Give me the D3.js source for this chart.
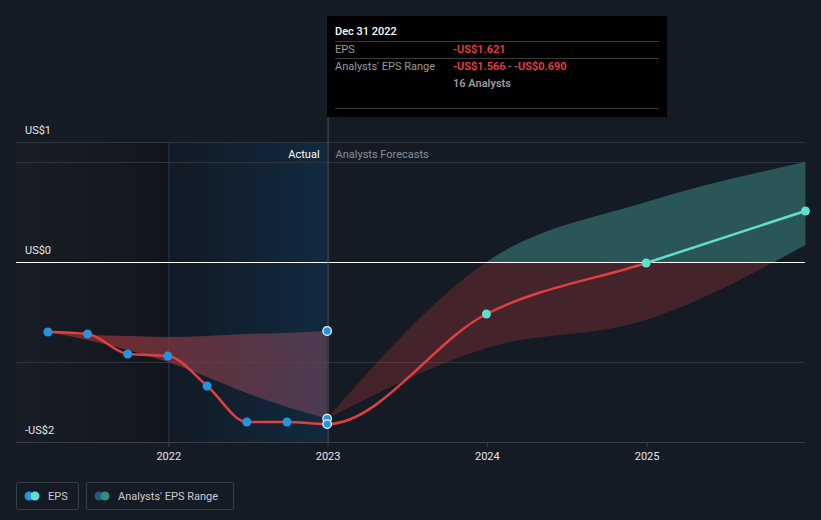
<!DOCTYPE html>
<html>
<head>
<meta charset="utf-8">
<script src="https://cdn.jsdelivr.net/npm/d3@7"></script>
<style>
  html, body { margin: 0; padding: 0; background: #151b24; }
  body { width: 821px; height: 520px; overflow: hidden; font-family: Roboto, "Noto Sans", sans-serif; }
  svg { display: block; }
</style>
</head>
<body>
<svg id="chart" width="821" height="520"></svg>
<script>
// ---------- data ----------
const histDates = ["2021-03-31", "2021-06-30", "2021-09-30", "2021-12-31", "2022-03-31", "2022-06-30", "2022-09-30", "2022-12-31"];
const histEPS   = [-0.70, -0.72, -0.92, -0.94, -1.24, -1.60, -1.60, -1.621];
const histLow   = [-0.70, -0.78, -0.88, -1.00, -1.15, -1.31, -1.45, -1.566];
const histHigh  = [-0.70, -0.73, -0.74, -0.75, -0.74, -0.72, -0.71, -0.690];

const fcDates = ["2022-12-31", "2023-12-31", "2024-12-31", "2025-12-31"];
const fcEPS   = [-1.621, -0.52, -0.01, 0.51];
const fcLow   = [-1.566, -0.86, -0.58, 0.17];
const fcHigh  = [-1.566, 0.00, 0.60, 1.00];

const yTickLabels = ["US$1", "US$0", "-US$2"];
const yTickAnchors = [1.2, 0, -1.8];
const yGridValues = [1.2, 1, -1];
const xTickYears = [2022, 2023, 2024, 2025];

const tooltipTitle = "Dec 31 2022";
const tooltipEPS = "-US$1.621";
const tooltipRangeLow = "-US$1.566";
const tooltipRangeHigh = "-US$0.690";
const tooltipAnalysts = "16 Analysts";

// ---------- setup ----------
(function () {
const parse = d3.timeParse("%Y-%m-%d");
const svg = d3.select("#chart");
const W = 821, H = 520;
const pL = 16, pR = 805, pT = 142, pB = 442;

const x = d3.scaleTime()
  .domain([new Date(2021, 0, 17), new Date(2025, 11, 30)])
  .range([pL, pR]);
const y = d3.scaleLinear().domain([-1.8, 1.2]).range([pB, pT]);

const hist = histDates.map((d, i) => ({ date: parse(d), v: histEPS[i], lo: histLow[i], hi: histHigh[i] }));
const fc = fcDates.map((d, i) => ({ date: parse(d), v: fcEPS[i], lo: fcLow[i], hi: fcHigh[i] }));
const all = hist.concat(fc.slice(1));

const red = "#e04040", teal = "#5ee0cf", blue = "#2394df";
const x2022 = x(new Date(2022, 0, 1)), x2023 = x(new Date(2023, 0, 1));
const defs = svg.append("defs");

// background regions
const gLeft = defs.append("linearGradient").attr("id", "gLeft").attr("x1", 0).attr("x2", 1);
gLeft.append("stop").attr("offset", 0).attr("stop-color", "#181d26");
gLeft.append("stop").attr("offset", 1).attr("stop-color", "#12161c");
svg.append("rect").attr("x", pL).attr("y", pT).attr("width", x2022 - pL).attr("height", pB - pT).attr("fill", "url(#gLeft)");

const gHi = defs.append("linearGradient").attr("id", "gHi").attr("x1", 0).attr("x2", 1);
gHi.append("stop").attr("offset", 0).attr("stop-color", "#121a24");
gHi.append("stop").attr("offset", 1).attr("stop-color", "#112a40");
svg.append("rect").attr("x", x2022).attr("y", pT).attr("width", x2023 - x2022).attr("height", pB - pT).attr("fill", "url(#gHi)");
svg.append("line").attr("x1", x2022 + 0.5).attr("x2", x2022 + 0.5).attr("y1", pT).attr("y2", pB).attr("stroke", "#1f3a55").attr("stroke-width", 1);

// gridlines
svg.append("g").selectAll("line").data(yGridValues).join("line")
  .attr("x1", pL).attr("x2", pR)
  .attr("y1", d => Math.round(y(d)) + 0.5).attr("y2", d => Math.round(y(d)) + 0.5)
  .attr("stroke", "#2f343c").attr("stroke-width", 1);

// clip paths above / below zero
defs.append("clipPath").attr("id", "above").append("rect")
  .attr("x", 0).attr("y", 0).attr("width", W).attr("height", y(0));
defs.append("clipPath").attr("id", "below").append("rect")
  .attr("x", 0).attr("y", y(0)).attr("width", W).attr("height", H - y(0));

// historical range band
const gHist = defs.append("linearGradient").attr("id", "gHist").attr("x1", 0).attr("x2", 1);
gHist.append("stop").attr("offset", 0).attr("stop-color", "#8a2a2c").attr("stop-opacity", 0.85);
gHist.append("stop").attr("offset", 1).attr("stop-color", "#7a4a60").attr("stop-opacity", 0.55);
const area = d3.area().x(d => x(d.date)).y0(d => y(d.lo)).y1(d => y(d.hi)).curve(d3.curveMonotoneX);
svg.append("path").datum(hist).attr("d", area).attr("fill", "url(#gHist)");

// forecast range band
svg.append("path").datum(fc).attr("d", area).attr("fill", red).attr("fill-opacity", 0.23).attr("clip-path", "url(#below)");
svg.append("path").datum(fc).attr("d", area).attr("fill", teal).attr("fill-opacity", 0.3).attr("clip-path", "url(#above)");

// zero line
svg.append("line").attr("x1", pL).attr("x2", pR).attr("y1", Math.round(y(0)) + 0.5).attr("y2", Math.round(y(0)) + 0.5)
  .attr("stroke", "#ffffff").attr("stroke-width", 1);

// bottom axis
const xAxis = d3.axisBottom(x)
  .tickValues(xTickYears.map(yr => new Date(yr, 0, 1)))
  .tickFormat(d3.timeFormat("%Y"))
  .tickSize(5).tickSizeOuter(0);
const ax = svg.append("g").attr("transform", `translate(0,${pB})`).call(xAxis);
ax.select(".domain").attr("stroke", "#3a3f47").attr("d", `M${pL},0.5H${pR}`);
ax.selectAll(".tick line").attr("stroke", "#3a3f47");
ax.selectAll(".tick text").attr("fill", "#e6e6e6").attr("font-size", 11).attr("font-family", "Roboto, sans-serif").attr("dy", "0.9em");

// y labels
svg.append("g").selectAll("text").data(yTickLabels).join("text")
  .attr("x", 25).attr("y", (d, i) => y(yTickAnchors[i]) - 8)
  .attr("fill", "#e6e6e6").attr("font-size", 11)
  .text(d => d);

// EPS line (history + forecast as one smooth curve)
const line = d3.line().x(d => x(d.date)).y(d => y(d.v)).curve(d3.curveMonotoneX);
svg.append("path").datum(all).attr("d", line).attr("fill", "none").attr("stroke", red).attr("stroke-width", 2.5).attr("clip-path", "url(#below)");
svg.append("path").datum(all).attr("d", line).attr("fill", "none").attr("stroke", teal).attr("stroke-width", 2.5).attr("clip-path", "url(#above)");

// tooltip vertical line
svg.append("line").attr("x1", x2023 + 0.5).attr("x2", x2023 + 0.5).attr("y1", 16).attr("y2", pB)
  .attr("stroke", "#4a5260").attr("stroke-width", 1);

// historical points
svg.append("g").selectAll("circle").data(hist.slice(0, -1)).join("circle")
  .attr("cx", d => x(d.date)).attr("cy", d => y(d.v)).attr("r", 4.5).attr("fill", blue);

// highlighted points at Dec 31 2022
const last = hist[hist.length - 1];
[last.hi, last.lo, last.v].forEach(v => {
  svg.append("circle").attr("cx", x(last.date)).attr("cy", y(v)).attr("r", 4.3)
    .attr("fill", blue).attr("stroke", "#ffffff").attr("stroke-width", 1.2);
});

// forecast points
svg.append("g").selectAll("circle").data(fc.slice(1)).join("circle")
  .attr("cx", d => x(d.date)).attr("cy", d => y(d.v)).attr("r", 4.5).attr("fill", teal);

// Actual / Analysts Forecasts
svg.append("text").attr("x", x2023 - 8).attr("y", 158).attr("text-anchor", "end")
  .attr("fill", "#ffffff").attr("font-size", 11).text("Actual");
svg.append("text").attr("x", x2023 + 8).attr("y", 158)
  .attr("fill", "#8a8f96").attr("font-size", 11).text("Analysts Forecasts");

// tooltip
const tt = svg.append("g");
tt.append("rect").attr("x", 327).attr("y", 16).attr("width", 340).attr("height", 101).attr("fill", "#000000");
tt.append("text").attr("x", 335).attr("y", 35).attr("fill", "#ffffff").attr("font-size", 11).attr("font-weight", 500).text(tooltipTitle);
[41.5, 58.5, 108.5].forEach(yy => tt.append("line").attr("x1", 335).attr("x2", 659).attr("y1", yy).attr("y2", yy).attr("stroke", "#3a3a3a"));
tt.append("text").attr("x", 335).attr("y", 53).attr("fill", "#9a9a9a").attr("font-size", 11).text("EPS");
tt.append("text").attr("x", 453).attr("y", 53).attr("fill", "#e8403f").attr("font-size", 11).attr("font-weight", 600).text(tooltipEPS);
tt.append("text").attr("x", 335).attr("y", 70).attr("fill", "#9a9a9a").attr("font-size", 11).text("Analysts' EPS Range");
const rt = tt.append("text").attr("x", 453).attr("y", 70).attr("font-size", 11).attr("font-weight", 600);
rt.append("tspan").attr("fill", "#e8403f").text(tooltipRangeLow);
rt.append("tspan").attr("fill", "#9a9a9a").attr("font-weight", 400).text(" - ");
rt.append("tspan").attr("fill", "#e8403f").text(tooltipRangeHigh);
tt.append("text").attr("x", 453).attr("y", 87).attr("fill", "#9a9a9a").attr("font-size", 11).attr("font-weight", 600).text(tooltipAnalysts);

// legend
const legend = [
  { label: "EPS", x: 16, w: 62, c1: blue, c2: teal },
  { label: "Analysts' EPS Range", x: 86, w: 147, c1: "#1f5a80", c2: "#3b8a80" }
];
const lg = svg.append("g").selectAll("g").data(legend).join("g").attr("transform", d => `translate(${d.x},482)`);
lg.append("rect").attr("x", 0.5).attr("y", 0.5).attr("width", d => d.w).attr("height", 27).attr("rx", 2)
  .attr("fill", "none").attr("stroke", "#3a3f47");
lg.append("circle").attr("cx", 13).attr("cy", 14).attr("r", 4.5).attr("fill", d => d.c1);
lg.append("circle").attr("cx", 19).attr("cy", 14).attr("r", 4.5).attr("fill", d => d.c2);
lg.append("text").attr("x", 32).attr("y", 18).attr("fill", "#c8cbd0").attr("font-size", 11).text(d => d.label);
})();
</script>
</body>
</html>
